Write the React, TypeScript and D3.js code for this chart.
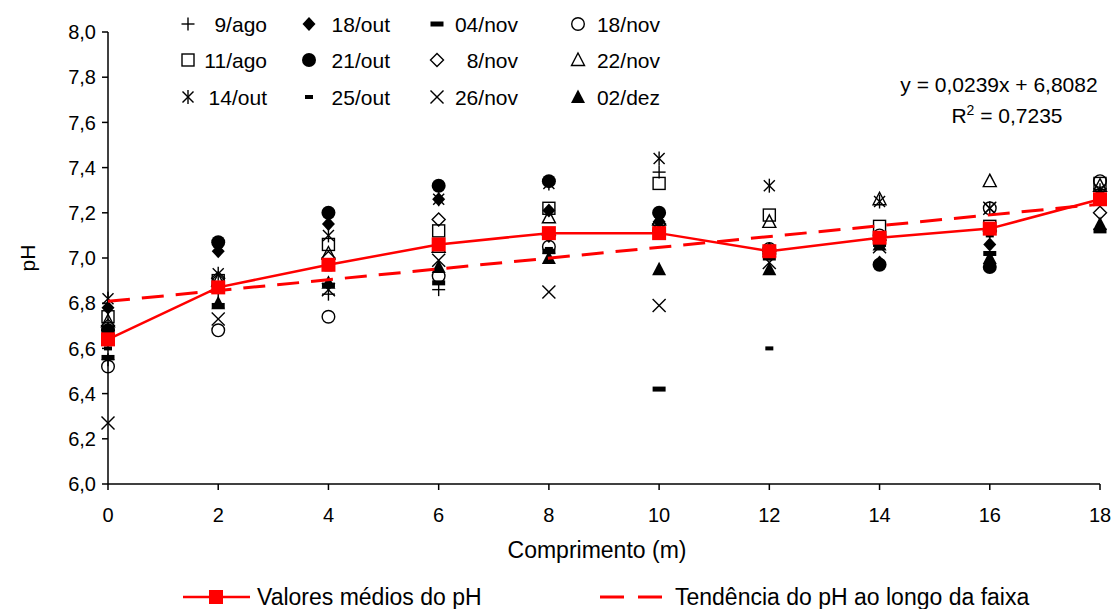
import React from "react";
import * as d3 from "d3";

// Comprimento ao longo da faixa (m)
const comprimento = [0, 2, 4, 6, 8, 10, 12, 14, 16, 18];

// pH medido em cada data de coleta
const ph9ago = [6.55, 6.85, 6.84, 6.86, 7.02, 7.38, 7.03, 7.08, 7.12, 7.28];
const ph11ago = [6.74, 6.9, 7.06, 7.12, 7.22, 7.33, 7.19, 7.14, 7.14, 7.33];
const ph14out = [6.82, 6.93, 7.1, 7.26, 7.33, 7.44, 7.32, 7.25, 7.22, 7.3];
const ph18out = [6.78, 7.03, 7.15, 7.26, 7.21, 7.16, 7.04, 6.98, 7.06, 7.28];
const ph21out = [6.68, 7.07, 7.2, 7.32, 7.34, 7.2, 7.02, 6.97, 6.96, 7.26];
const ph25out = [6.6, 6.86, 6.95, 7.04, 7.04, 7.16, 6.6, 7.1, 7.1, 7.26];
const ph04nov = [6.56, 6.79, 6.88, 6.89, 7.03, 6.42, 7.0, 7.06, 7.02, 7.12];
const ph8nov = [6.7, 6.91, 7.0, 7.17, 7.1, 7.15, 7.03, 7.08, 7.12, 7.2];
const ph18nov = [6.52, 6.68, 6.74, 6.92, 7.05, 7.12, 7.04, 7.1, 7.22, 7.34];
const ph22nov = [6.72, 6.9, 7.02, 7.05, 7.18, 7.17, 7.16, 7.26, 7.34, 7.32];
const ph26nov = [6.27, 6.73, 6.86, 6.99, 6.85, 6.79, 6.98, 7.05, 7.22, 7.28];
const ph02dez = [6.68, 6.8, 6.89, 6.96, 7.0, 6.95, 6.95, 7.06, 7.0, 7.15];

// Valores médios do pH em cada ponto
const mediaPH = [6.64, 6.87, 6.97, 7.06, 7.11, 7.11, 7.03, 7.09, 7.13, 7.26];

// Linha de tendência: y = 0,0239x + 6,8082
const tendInclinacao = 0.0239;
const tendIntercepto = 6.8082;
const tendR2 = 0.7235;

const yTicks = [6.0, 6.2, 6.4, 6.6, 6.8, 7.0, 7.2, 7.4, 7.6, 7.8, 8.0];
const xTicks = [0, 2, 4, 6, 8, 10, 12, 14, 16, 18];

const datas = [
  { nome: "9/ago", valores: ph9ago },
  { nome: "11/ago", valores: ph11ago },
  { nome: "14/out", valores: ph14out },
  { nome: "18/out", valores: ph18out },
  { nome: "21/out", valores: ph21out },
  { nome: "25/out", valores: ph25out },
  { nome: "04/nov", valores: ph04nov },
  { nome: "8/nov", valores: ph8nov },
  { nome: "18/nov", valores: ph18nov },
  { nome: "22/nov", valores: ph22nov },
  { nome: "26/nov", valores: ph26nov },
  { nome: "02/dez", valores: ph02dez },
];

const MARCADOR: Record<string, string> = {
  "9/ago": "plus",
  "11/ago": "squareOpen",
  "14/out": "asterisk",
  "18/out": "diamondFilled",
  "21/out": "circleFilled",
  "25/out": "dashSmall",
  "04/nov": "dashBig",
  "8/nov": "diamondOpen",
  "18/nov": "circleOpen",
  "22/nov": "triangleOpen",
  "26/nov": "cross",
  "02/dez": "triangleFilled",
};

// legend grid: column and row of each series
const LEGEND_POS: Record<string, [number, number]> = {
  "9/ago": [0, 0],
  "11/ago": [0, 1],
  "14/out": [0, 2],
  "18/out": [1, 0],
  "21/out": [1, 1],
  "25/out": [1, 2],
  "04/nov": [2, 0],
  "8/nov": [2, 1],
  "26/nov": [2, 2],
  "18/nov": [3, 0],
  "22/nov": [3, 1],
  "02/dez": [3, 2],
};

const FONT = "'Liberation Sans', Arial, Helvetica, sans-serif";

function Marker({ tipo, x, y }: { tipo: string; x: number; y: number }) {
  const sw = 1.4;
  switch (tipo) {
    case "plus":
      return (
        <g stroke="#000" strokeWidth={sw}>
          <line x1={x - 6.5} x2={x + 6.5} y1={y} y2={y} />
          <line x1={x} x2={x} y1={y - 6.5} y2={y + 6.5} />
        </g>
      );
    case "squareOpen":
      return <rect x={x - 6} y={y - 6} width={12} height={12} fill="none" stroke="#000" strokeWidth={sw} />;
    case "asterisk":
      return (
        <g stroke="#000" strokeWidth={sw}>
          <line x1={x - 5.5} x2={x + 5.5} y1={y - 5.5} y2={y + 5.5} />
          <line x1={x - 5.5} x2={x + 5.5} y1={y + 5.5} y2={y - 5.5} />
          <line x1={x} x2={x} y1={y - 7} y2={y + 7} />
        </g>
      );
    case "diamondFilled":
      return <path d={`M${x},${y - 7}L${x + 6.5},${y}L${x},${y + 7}L${x - 6.5},${y}Z`} fill="#000" />;
    case "diamondOpen":
      return <path d={`M${x},${y - 6.5}L${x + 6.5},${y}L${x},${y + 6.5}L${x - 6.5},${y}Z`} fill="none" stroke="#000" strokeWidth={sw} />;
    case "circleFilled":
      return <circle cx={x} cy={y} r={7} fill="#000" />;
    case "circleOpen":
      return <circle cx={x} cy={y} r={6.3} fill="none" stroke="#000" strokeWidth={sw} />;
    case "dashSmall":
      return <rect x={x - 4} y={y - 2} width={8} height={4} fill="#000" />;
    case "dashBig":
      return <rect x={x - 6.5} y={y - 2.5} width={13} height={5} fill="#000" />;
    case "triangleOpen":
      return <path d={`M${x},${y - 7}L${x + 6.5},${y + 5.5}L${x - 6.5},${y + 5.5}Z`} fill="none" stroke="#000" strokeWidth={sw} />;
    case "triangleFilled":
      return <path d={`M${x},${y - 7.5}L${x + 7},${y + 6}L${x - 7},${y + 6}Z`} fill="#000" />;
    case "cross":
      return (
        <g stroke="#000" strokeWidth={sw}>
          <line x1={x - 6.5} x2={x + 6.5} y1={y - 6.5} y2={y + 6.5} />
          <line x1={x - 6.5} x2={x + 6.5} y1={y + 6.5} y2={y - 6.5} />
        </g>
      );
    default:
      return null;
  }
}

export default function App() {
  const W = 1118;
  const H = 609;
  const x = d3.scaleLinear().domain([0, 18]).range([108, 1100]);
  const y = d3.scaleLinear().domain([6, 8]).range([484, 32]);

  const linhaMedia = d3
    .line<number>()
    .x((_, i) => x(comprimento[i]))
    .y((d) => y(d));

  const tendencia = (c: number) => tendInclinacao * c + tendIntercepto;
  const xMin = comprimento[0];
  const xMax = comprimento[comprimento.length - 1];

  const fmt = (v: number) => v.toFixed(1).replace(".", ",");

  const legendMarkerX = [188, 309, 437, 578];
  const legendTextEnd = [267, 390, 518, 660];
  const legendRowY = [24, 60, 97];

  return (
    <svg
      width={W}
      height={H}
      style={{ position: "absolute", left: 0, top: 0, background: "#fff" }}
      fontFamily={FONT}
    >
      <rect width={W} height={H} fill="#fff" />

      {/* eixos */}
      <line x1={x(0)} x2={x(0)} y1={y(8)} y2={y(6)} stroke="#000" strokeWidth={1.5} />
      <line x1={x(0)} x2={x(18)} y1={y(6)} y2={y(6)} stroke="#000" strokeWidth={1.5} />
      {yTicks.map((t) => (
        <g key={`yt${t}`}>
          <line x1={x(0) - 6} x2={x(0)} y1={y(t)} y2={y(t)} stroke="#000" strokeWidth={1.5} />
          <text x={x(0) - 12} y={y(t)} dy="0.36em" textAnchor="end" fontSize={20}>
            {fmt(t)}
          </text>
        </g>
      ))}
      {xTicks.map((t) => (
        <g key={`xt${t}`}>
          <line x1={x(t)} x2={x(t)} y1={y(6)} y2={y(6) + 6} stroke="#000" strokeWidth={1.5} />
          <text x={x(t)} y={y(6) + 38} textAnchor="middle" fontSize={20}>
            {t}
          </text>
        </g>
      ))}
      <text x={597} y={558} textAnchor="middle" fontSize={23}>
        Comprimento (m)
      </text>
      <text transform={`translate(35,${y(7)}) rotate(-90)`} textAnchor="middle" fontSize={21}>
        pH
      </text>

      {/* pontos de cada coleta */}
      {datas.map((s) =>
        s.valores.map((v, i) => (
          <Marker key={`${s.nome}-${i}`} tipo={MARCADOR[s.nome]} x={x(comprimento[i])} y={y(v)} />
        ))
      )}

      {/* média */}
      <path d={linhaMedia(mediaPH) || ""} fill="none" stroke="#ff0000" strokeWidth={2.5} />
      {mediaPH.map((v, i) => (
        <rect key={`m${i}`} x={x(comprimento[i]) - 7} y={y(v) - 7} width={14} height={14} fill="#ff0000" />
      ))}

      {/* tendência */}
      <line
        x1={x(xMin)}
        y1={y(tendencia(xMin))}
        x2={x(xMax)}
        y2={y(tendencia(xMax))}
        stroke="#ff0000"
        strokeWidth={3}
        strokeDasharray="22 12"
      />

      {/* equação */}
      <text x={999} y={92} textAnchor="middle" fontSize={21}>
        {`y = ${tendInclinacao.toFixed(4).replace(".", ",")}x + ${tendIntercepto.toFixed(4).replace(".", ",")}`}
      </text>
      <text x={1007} y={123} textAnchor="middle" fontSize={21}>
        R<tspan dy={-8} fontSize={14}>2</tspan>
        <tspan dy={8}>{` = ${tendR2.toFixed(4).replace(".", ",")}`}</tspan>
      </text>

      {/* legenda das datas */}
      {datas.map((s) => {
        const [c, r] = LEGEND_POS[s.nome];
        return (
          <g key={`lg${s.nome}`}>
            <Marker tipo={MARCADOR[s.nome]} x={legendMarkerX[c]} y={legendRowY[r]} />
            <text x={legendTextEnd[c]} y={legendRowY[r]} dy="0.36em" textAnchor="end" fontSize={21}>
              {s.nome}
            </text>
          </g>
        );
      })}

      {/* legenda inferior */}
      <line x1={183} x2={250} y1={597} y2={597} stroke="#ff0000" strokeWidth={2.5} />
      <rect x={209} y={590} width={14} height={14} fill="#ff0000" />
      <text x={257} y={597} dy="0.36em" fontSize={23}>
        Valores médios do pH
      </text>
      <line x1={600} x2={668} y1={597} y2={597} stroke="#ff0000" strokeWidth={3} strokeDasharray="24 14" />
      <text x={675} y={597} dy="0.36em" fontSize={23}>
        Tendência do pH ao longo da faixa
      </text>
    </svg>
  );
}
